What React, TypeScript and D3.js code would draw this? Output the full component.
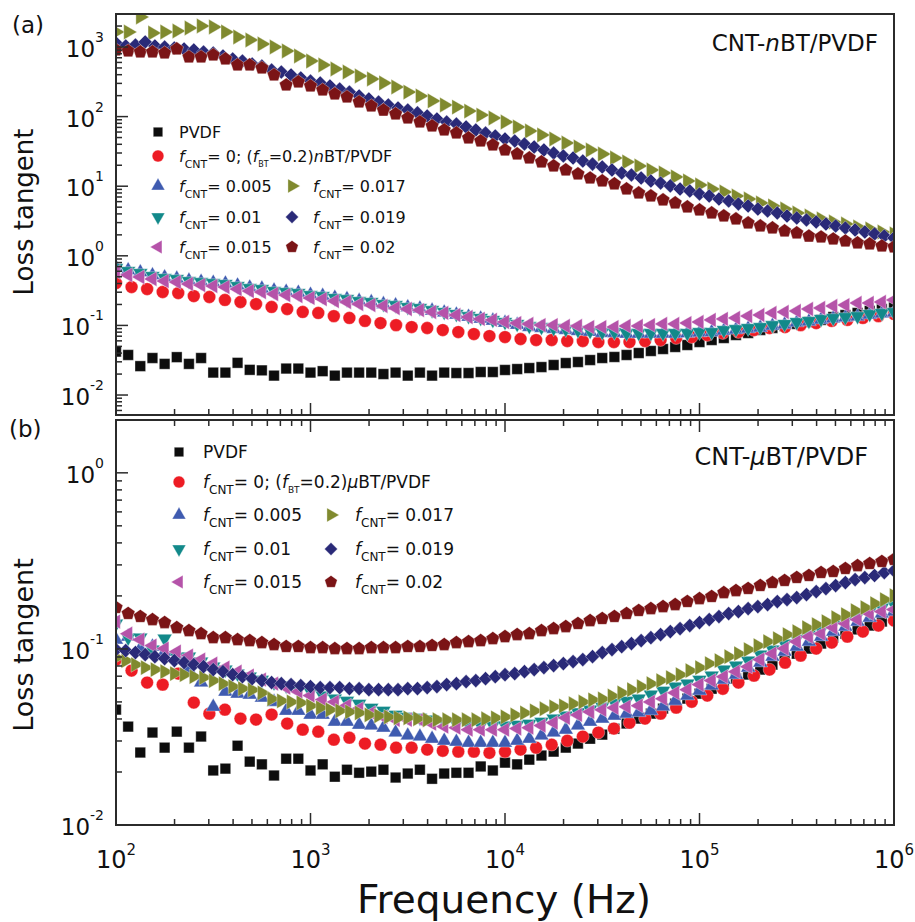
import React from 'react';
import * as d3 from 'd3';

const FONT = '"DejaVu Sans", Verdana, sans-serif';

// log-spaced sweep of n points from 10^2 to 10^6 Hz
const sweep = (n: number) => d3.range(n).map((i) => 10 ** (2 + (4 * i) / (n - 1)));

// ---------- panel (a): CNT-nBT/PVDF ----------
const pvdfA = [
  0.042, 0.0376, 0.026, 0.034, 0.028, 0.035, 0.028, 0.034, 0.021, 0.021,
  0.029, 0.023, 0.0226, 0.019, 0.024, 0.024, 0.021, 0.022, 0.019, 0.021,
  0.021, 0.021, 0.02, 0.021, 0.019, 0.021, 0.019, 0.021, 0.0207, 0.0207,
  0.0214, 0.0214, 0.0229, 0.0236, 0.0244, 0.0252, 0.027, 0.0288, 0.0298, 0.0318,
  0.034, 0.0352, 0.0376, 0.0401, 0.0429, 0.0458, 0.049, 0.0523, 0.0577, 0.0617,
  0.0659, 0.0728, 0.0778, 0.0859, 0.0918, 0.098, 0.105, 0.112, 0.12, 0.132,
  0.141, 0.151, 0.162, 0.172, 0.182,
];
const f0A = [
  0.406, 0.356, 0.333, 0.302, 0.292, 0.264, 0.256, 0.232, 0.217, 0.203,
  0.184, 0.172, 0.156, 0.151, 0.136, 0.128, 0.116, 0.108, 0.101, 0.0948,
  0.0918, 0.0859, 0.0804, 0.0752, 0.0704, 0.0681, 0.0638, 0.0617, 0.0617, 0.0597,
  0.0597, 0.0577, 0.0577, 0.0577, 0.0597, 0.0617, 0.0659, 0.0681, 0.0728, 0.0778,
  0.0804, 0.0859, 0.0918, 0.0948, 0.101, 0.108, 0.116, 0.12, 0.128, 0.136,
  0.146,
];
const f005A = [
  0.68, 0.62, 0.58, 0.525, 0.49, 0.47, 0.44, 0.425, 0.41, 0.4,
  0.375, 0.35, 0.338, 0.318, 0.305, 0.295, 0.276, 0.266, 0.25, 0.24,
  0.225, 0.216, 0.202, 0.194, 0.182, 0.175, 0.163, 0.153, 0.143, 0.133,
  0.125, 0.117, 0.109, 0.102, 0.095, 0.092, 0.089, 0.086, 0.083, 0.081,
  0.078, 0.078, 0.076, 0.076, 0.076, 0.076, 0.076, 0.077, 0.079, 0.08,
  0.084, 0.087, 0.09, 0.093, 0.099, 0.103, 0.11, 0.114, 0.121, 0.126,
  0.13, 0.134, 0.143, 0.148, 0.153,
];
const f01A = [
  0.668, 0.605, 0.566, 0.513, 0.48, 0.464, 0.434, 0.42, 0.406, 0.394,
  0.368, 0.344, 0.333, 0.312, 0.302, 0.292, 0.273, 0.264, 0.248, 0.239,
  0.224, 0.217, 0.203, 0.196, 0.184, 0.178, 0.166, 0.156, 0.146, 0.136,
  0.128, 0.12, 0.112, 0.105, 0.098, 0.0948, 0.0918, 0.0887, 0.0859, 0.0831,
  0.0804, 0.0804, 0.0778, 0.0778, 0.0778, 0.0778, 0.0778, 0.0778, 0.0804, 0.0804,
  0.0859, 0.0887, 0.0918, 0.0948, 0.101, 0.105, 0.112, 0.116, 0.124, 0.128,
  0.132, 0.136, 0.146, 0.151, 0.156,
];
const f015A = [
  0.585, 0.53, 0.496, 0.464, 0.434, 0.42, 0.394, 0.38, 0.368, 0.356,
  0.333, 0.312, 0.302, 0.283, 0.273, 0.264, 0.248, 0.239, 0.224, 0.217,
  0.203, 0.196, 0.19, 0.178, 0.172, 0.166, 0.156, 0.151, 0.141, 0.132,
  0.124, 0.12, 0.112, 0.108, 0.105, 0.101, 0.101, 0.098, 0.098, 0.0948,
  0.0948, 0.0948, 0.098, 0.098, 0.101, 0.105, 0.105, 0.108, 0.112, 0.12,
  0.124, 0.128, 0.136, 0.141, 0.151, 0.156, 0.161, 0.172, 0.178, 0.19,
  0.196, 0.21, 0.21, 0.217, 0.232,
];
const f017A = [
  1643, 1643, 2698, 1589, 1643, 1698, 1875, 2004, 1937, 1643,
  1393, 1261, 1104, 1000, 877, 743, 629, 551, 483, 437,
  383, 347, 304, 266, 225, 198, 168, 147, 137, 120,
  105, 95.5, 83.6, 71.0, 62.1, 54.4, 47.7, 41.8, 36.6, 33.1,
  29.0, 25.4, 22.3, 19.5, 17.1, 15.5, 13.6, 11.9, 10.4, 9.12,
  8.26, 7.23, 6.55, 5.74, 5.2, 4.7, 4.12, 3.73, 3.38, 3.06,
  2.86, 2.59, 2.43, 2.2, 2.06,
];
const f019A = [
  1142, 1034, 1068, 1180, 1034, 1000, 967, 936, 906, 848,
  820, 743, 673, 629, 570, 533, 467, 437, 396, 359,
  325, 304, 275, 249, 225, 198, 179, 162, 147, 133,
  124, 113, 102, 92.4, 83.6, 78.3, 71.0, 64.2, 58.1, 52.6,
  47.7, 44.6, 40.4, 36.6, 33.1, 30.0, 27.2, 25.4, 23.0, 20.8,
  18.9, 17.1, 15.5, 14.5, 13.1, 11.9, 11.1, 10.1, 9.12, 8.53,
  7.73, 7.23, 6.55, 6.13, 5.55, 5.2, 4.7, 4.4, 4.12, 3.73,
  3.49, 3.27, 3.06, 2.86, 2.68, 2.51, 2.35, 2.2, 2.06, 1.92,
  1.8,
];
const f02A = [
  906, 876, 848, 848, 820, 936, 718, 718, 767, 673,
  551, 551, 499, 396, 284, 314, 275, 241, 211, 191,
  162, 142, 124, 109, 95.5, 83.6, 73.3, 64.2, 58.1, 49.3,
  44.6, 39.1, 33.1, 29.0, 25.4, 22.3, 19.5, 17.1, 15.0, 13.1,
  11.9, 10.8, 9.12, 7.98, 7.23, 6.34, 5.74, 5.03, 4.55, 4.12,
  3.73, 3.38, 2.96, 2.68, 2.51, 2.27, 2.13, 1.92, 1.86, 1.74,
  1.63, 1.53, 1.48, 1.38, 1.34,
];

// ---------- panel (b): CNT-uBT/PVDF ----------
const pvdfB = [
  0.0452, 0.0362, 0.0258, 0.0335, 0.0275, 0.0339, 0.0275, 0.0318, 0.0204, 0.0209,
  0.0282, 0.0229, 0.0221, 0.0191, 0.0238, 0.0238, 0.0204, 0.0221, 0.0188, 0.0206,
  0.0198, 0.0201, 0.0206, 0.0186, 0.0196, 0.0206, 0.0183, 0.0196, 0.0198, 0.0198,
  0.0215, 0.0204, 0.0226, 0.0221, 0.0235, 0.0248, 0.0261, 0.0275, 0.029, 0.0309,
  0.0326, 0.0352, 0.0377, 0.0402, 0.0429, 0.0458, 0.0489, 0.0522, 0.0557, 0.0594,
  0.0635, 0.0678, 0.0715, 0.0763, 0.0814, 0.0869, 0.0939, 0.1004, 0.1072, 0.116,
  0.122, 0.129, 0.1357, 0.143, 0.151,
];
const f0B = [
  0.0869, 0.0753, 0.0644, 0.0627, 0.0724, 0.0496, 0.0429, 0.0452, 0.0402, 0.0397,
  0.0424, 0.0377, 0.0348, 0.0339, 0.0305, 0.0313, 0.029, 0.0286, 0.0275, 0.0275,
  0.0268, 0.0264, 0.0261, 0.0261, 0.0257, 0.0261, 0.0268, 0.0275, 0.0286, 0.0301,
  0.0318, 0.0335, 0.0353, 0.0381, 0.0402, 0.0429, 0.0464, 0.0501, 0.0543, 0.0594,
  0.0644, 0.0705, 0.0763, 0.0835, 0.0916, 0.1004, 0.1086, 0.1174, 0.1254, 0.1357,
  0.1448,
];
const f005B = [
  0.1129, 0.1174, 0.1004, 0.103, 0.0965, 0.0904, 0.0763, 0.0644, 0.0469, 0.0572,
  0.0557, 0.055, 0.0529, 0.05, 0.0445, 0.0445, 0.0423, 0.0423, 0.0386, 0.0386,
  0.0371, 0.0367, 0.0357, 0.0335, 0.0322, 0.0318, 0.0309, 0.0301, 0.0297, 0.0293,
  0.0293, 0.0293, 0.0293, 0.0301, 0.0309, 0.0322, 0.0335, 0.0348, 0.0367, 0.0386,
  0.0402, 0.0418, 0.0429, 0.0436, 0.0446, 0.0471, 0.0507, 0.0543, 0.0579, 0.0619,
  0.0669, 0.0714, 0.0783, 0.0836, 0.0904, 0.0965, 0.103, 0.11, 0.1174, 0.1254,
  0.1338, 0.1429, 0.1506, 0.1587, 0.1629,
];
const f01B = [
  0.1392, 0.1159, 0.1159, 0.0991, 0.1144, 0.0904, 0.0904, 0.0847, 0.0793, 0.0763,
  0.0724, 0.0696, 0.0669, 0.0644, 0.0619, 0.0595, 0.0571, 0.0543, 0.0522, 0.0507,
  0.0488, 0.0463, 0.0445, 0.0423, 0.0412, 0.0407, 0.0397, 0.0386, 0.0376, 0.0371,
  0.0367, 0.0367, 0.0367, 0.0371, 0.0376, 0.0386, 0.0402, 0.0418, 0.0436, 0.0452,
  0.0471, 0.0494, 0.0507, 0.0522, 0.055, 0.0579, 0.0611, 0.0635, 0.0669, 0.0705,
  0.0763, 0.0804, 0.0858, 0.0928, 0.0991, 0.1072, 0.1144, 0.1206, 0.1281, 0.1374,
  0.1448, 0.1546, 0.1629, 0.1717, 0.1785,
];
const f015B = [
  0.1429, 0.1221, 0.1129, 0.1044, 0.1004, 0.0965, 0.0916, 0.087, 0.0825, 0.0783,
  0.0743, 0.0705, 0.0669, 0.0635, 0.0603, 0.0572, 0.0543, 0.0515, 0.05, 0.0476,
  0.0457, 0.0433, 0.0411, 0.0396, 0.0396, 0.0396, 0.0376, 0.0362, 0.0357, 0.0348,
  0.0348, 0.0348, 0.0348, 0.0353, 0.0357, 0.0367, 0.0381, 0.0406, 0.0422, 0.0439,
  0.0451, 0.0463, 0.0469, 0.0476, 0.05, 0.0522, 0.0563, 0.0587, 0.0627, 0.0661,
  0.0696, 0.0743, 0.0793, 0.087, 0.094, 0.1004, 0.11, 0.1174, 0.1221, 0.1321,
  0.1393, 0.1467, 0.1587, 0.1629, 0.1672,
];
const f017B = [
  0.0892, 0.0858, 0.0814, 0.0783, 0.0763, 0.0743, 0.0724, 0.0714, 0.0696, 0.0687,
  0.0661, 0.0635, 0.0611, 0.0595, 0.0585, 0.0563, 0.052, 0.0507, 0.05, 0.0494,
  0.0475, 0.0463, 0.0451, 0.0445, 0.0439, 0.0433, 0.0422, 0.0417, 0.0411, 0.0406,
  0.0406, 0.0401, 0.0396, 0.0396, 0.0396, 0.0396, 0.0396, 0.0396, 0.0401, 0.0406,
  0.0411, 0.0422, 0.0433, 0.0445, 0.0457, 0.0469, 0.0475, 0.0488, 0.05, 0.0514,
  0.052, 0.0541, 0.0563, 0.0587, 0.0611, 0.0635, 0.0661, 0.0687, 0.0714, 0.0753,
  0.0783, 0.0825, 0.0858, 0.0904, 0.094, 0.0991, 0.1044, 0.11, 0.1144, 0.1206,
  0.1254, 0.1321, 0.1374, 0.1429, 0.1506, 0.1566, 0.1651, 0.1716, 0.1809, 0.1906,
  0.2008,
];
const f019B = [
  0.0991, 0.0978, 0.0953, 0.0928, 0.0904, 0.0881, 0.0858, 0.0836, 0.0814, 0.0793,
  0.0763, 0.0743, 0.0714, 0.0696, 0.0678, 0.0661, 0.0644, 0.0635, 0.0627, 0.0619,
  0.0611, 0.0603, 0.0603, 0.0603, 0.0595, 0.0595, 0.0587, 0.0587, 0.0587, 0.0587,
  0.0595, 0.0595, 0.0603, 0.0611, 0.0627, 0.0635, 0.0652, 0.0661, 0.0678, 0.0696,
  0.0714, 0.0724, 0.0743, 0.0763, 0.0783, 0.0804, 0.0825, 0.0847, 0.087, 0.0904,
  0.0953, 0.0991, 0.103, 0.1072, 0.1115, 0.1159, 0.1206, 0.1254, 0.1304, 0.1357,
  0.1411, 0.1467, 0.1526, 0.1587, 0.1629, 0.1694, 0.1739, 0.1785, 0.1857, 0.1906,
  0.1956, 0.2034, 0.2116, 0.2201, 0.2289, 0.238, 0.2476, 0.2541, 0.261, 0.2714,
  0.2783,
];
const f02B = [
  0.1717, 0.1588, 0.1527, 0.1467, 0.1411, 0.1321, 0.127, 0.1221, 0.1159, 0.1159,
  0.1129, 0.1114, 0.1086, 0.1058, 0.1031, 0.1031, 0.1017, 0.1017, 0.1004, 0.1004,
  0.1004, 0.1017, 0.1017, 0.1017, 0.1031, 0.1031, 0.1045, 0.1058, 0.1086, 0.11,
  0.1114, 0.1144, 0.1174, 0.1206, 0.1221, 0.127, 0.1304, 0.1339, 0.1393, 0.1448,
  0.1487, 0.1527, 0.1588, 0.1651, 0.1694, 0.1739, 0.1785, 0.1857, 0.1931, 0.1983,
  0.2088, 0.2144, 0.2202, 0.229, 0.2381, 0.2445, 0.2542, 0.261, 0.2714, 0.275,
  0.2859, 0.2973, 0.3053, 0.3134, 0.3218,
];

const fLabels = ['0.005', '0.01', '0.015', '0.017', '0.019', '0.02'];

type Shape = 'square' | 'circle' | 'up' | 'down' | 'left' | 'right' | 'diamond' | 'pentagon';

const pentagon: d3.SymbolType = {
  draw(ctx, size) {
    const r = Math.sqrt(size / 2.378);
    for (let i = 0; i < 5; i++) {
      const a = -Math.PI / 2 + (i * 2 * Math.PI) / 5;
      if (i === 0) ctx.moveTo(r * Math.cos(a), r * Math.sin(a));
      else ctx.lineTo(r * Math.cos(a), r * Math.sin(a));
    }
    ctx.closePath();
  },
};

const shapes: Record<Shape, { type: d3.SymbolType; rot: number; size: number }> = {
  square: { type: d3.symbolSquare, rot: 0, size: 112 },
  circle: { type: d3.symbolCircle, rot: 0, size: 128 },
  up: { type: d3.symbolTriangle, rot: 0, size: 95 },
  down: { type: d3.symbolTriangle, rot: 180, size: 95 },
  left: { type: d3.symbolTriangle, rot: -90, size: 95 },
  right: { type: d3.symbolTriangle, rot: 90, size: 102 },
  diamond: { type: d3.symbolSquare, rot: 45, size: 100 },
  pentagon: { type: pentagon, rot: 0, size: 122 },
};

const styles: { shape: Shape; color: string }[] = [
  { shape: 'square', color: '#0d0d0d' },
  { shape: 'circle', color: '#ed1c24' },
  { shape: 'up', color: '#3f5bb0' },
  { shape: 'down', color: '#12898a' },
  { shape: 'left', color: '#b553a9' },
  { shape: 'right', color: '#808a2f' },
  { shape: 'diamond', color: '#2a2a78' },
  { shape: 'pentagon', color: '#7b1416' },
];

const Marker = ({ s, x, y, scale = 1 }: { s: number; x: number; y: number; scale?: number }) => {
  const sh = shapes[styles[s].shape];
  const d = d3.symbol().type(sh.type).size(sh.size * scale)() as string;
  return (
    <path
      d={d}
      transform={`translate(${x},${y}) rotate(${sh.rot})`}
      fill={styles[s].color}
      stroke="#fff"
      strokeWidth={0.35}
    />
  );
};

const x = d3.scaleLog().domain([1e2, 1e6]).range([116, 894]);
const xTicks = x.ticks();

const Sup = ({ e, size, dy }: { e: number; size: number; dy: number }) => (
  <>
    <tspan>10</tspan>
    <tspan fontSize={size} dy={dy}>{e < 0 ? `-${-e}` : `${e}`}</tspan>
  </>
);

const FCnt = ({ v, sub }: { v: string; sub: number }) => (
  <>
    <tspan fontStyle="italic">f</tspan>
    <tspan fontSize={sub} dy={6}>CNT</tspan>
    <tspan dy={-6}>{`= ${v}`}</tspan>
  </>
);

type PanelProps = {
  id: string;
  top: number;
  bottom: number;
  yDomain: [number, number];
  data: number[][];
  xTickTop: boolean;
  xLabels: boolean;
  legend: { col: [number, number]; dx: number; rows: number[]; font: number; sub: number; bt: string };
  note: { x: number; y: number; size: number; mid: string };
  tag: { x: number; y: number; text: string };
  yTitle: { cy: number; size: number };
};

const Panel = (p: PanelProps) => {
  const left = 116;
  const right = 894;
  const y = d3.scaleLog().domain(p.yDomain).range([p.bottom, p.top]);
  const yTicks = y.ticks().filter((t) => t >= p.yDomain[0] && t <= p.yDomain[1]);
  const isMajor = (t: number) => Math.abs(Math.log10(t) - Math.round(Math.log10(t))) < 1e-6;
  const stroke = '#2b2b2b';
  const lg = p.legend;
  const ty = (r: number) => lg.rows[r] + 6;
  return (
    <g>
      <defs>
        <clipPath id={`clip-${p.id}`}>
          <rect x={left} y={p.top} width={right - left} height={p.bottom - p.top} />
        </clipPath>
      </defs>
      {/* data */}
      <g clipPath={`url(#clip-${p.id})`}>
        {p.data.map((vals, s) => {
          const fr = sweep(vals.length);
          return (
            <g key={s}>
              {vals.map((v, i) => (
                <Marker key={i} s={s} x={x(fr[i])} y={y(v)} />
              ))}
            </g>
          );
        })}
      </g>
      {/* frame */}
      <rect x={left} y={p.top} width={right - left} height={p.bottom - p.top} fill="none" stroke={stroke} strokeWidth={2} />
      {/* y ticks */}
      {yTicks.map((t, i) => (
        <line key={`y${i}`} x1={left} x2={left + (isMajor(t) ? 12 : 6)} y1={y(t)} y2={y(t)} stroke={stroke} strokeWidth={1.5} />
      ))}
      {yTicks.filter(isMajor).map((t, i) => (
        <text key={`yl${i}`} x={104} y={y(t) + 10} textAnchor="end" fontSize={23} fontFamily={FONT} fill="#111">
          <Sup e={Math.round(Math.log10(t))} size={14} dy={-15} />
        </text>
      ))}
      {/* x ticks */}
      {xTicks.map((t, i) => {
        const len = isMajor(t) ? 12 : 6;
        return (
          <g key={`x${i}`}>
            <line x1={x(t)} x2={x(t)} y1={p.bottom} y2={p.bottom - len} stroke={stroke} strokeWidth={1.5} />
            {p.xTickTop && <line x1={x(t)} x2={x(t)} y1={p.top} y2={p.top + len} stroke={stroke} strokeWidth={1.5} />}
          </g>
        );
      })}
      {p.xLabels &&
        xTicks.filter(isMajor).map((t, i) => (
          <text key={`xl${i}`} x={x(t)} y={p.bottom + 43} textAnchor="middle" fontSize={24} fontFamily={FONT} fill="#111">
            <Sup e={Math.round(Math.log10(t))} size={15} dy={-13} />
          </text>
        ))}
      {/* y title */}
      <text
        transform={`translate(33,${p.yTitle.cy}) rotate(-90)`}
        textAnchor="middle"
        fontSize={p.yTitle.size}
        fontFamily={FONT}
        fill="#111"
      >
        Loss tangent
      </text>
      {/* panel tag and annotation */}
      <text x={p.tag.x} y={p.tag.y} fontSize={23} fontFamily={FONT} fill="#111">{p.tag.text}</text>
      <text x={p.note.x} y={p.note.y} textAnchor="end" fontSize={p.note.size} fontFamily={FONT} fill="#111">
        <tspan>CNT-</tspan>
        <tspan fontStyle="italic">{p.note.mid}</tspan>
        <tspan>BT/PVDF</tspan>
      </text>
      {/* legend */}
      <g fontFamily={FONT} fontSize={lg.font} fill="#111">
        <Marker s={0} x={lg.col[0]} y={lg.rows[0]} scale={0.8} />
        <text x={lg.col[0] + lg.dx} y={ty(0)}>PVDF</text>
        <Marker s={1} x={lg.col[0]} y={lg.rows[1]} scale={0.85} />
        <text x={lg.col[0] + lg.dx} y={ty(1)}>
          <tspan fontStyle="italic">f</tspan>
          <tspan fontSize={lg.sub} dy={6}>CNT</tspan>
          <tspan dy={-6}>= 0; (</tspan>
          <tspan fontStyle="italic">f</tspan>
          <tspan fontSize={lg.sub - 3} dy={5}>BT</tspan>
          <tspan dy={-5}>=0.2)</tspan>
          <tspan fontStyle="italic">{lg.bt}</tspan>
          <tspan>BT/PVDF</tspan>
        </text>
        {fLabels.map((v, k) => {
          const col = k < 3 ? 0 : 1;
          const row = 2 + (k % 3);
          return (
            <g key={v}>
              <Marker s={k + 2} x={lg.col[col]} y={lg.rows[row]} scale={0.85} />
              <text x={lg.col[col] + lg.dx} y={ty(row)}>
                <FCnt v={v} sub={lg.sub} />
              </text>
            </g>
          );
        })}
      </g>
    </g>
  );
};

export default function App() {
  return (
    <svg width={915} height={922} style={{ position: 'absolute', left: 0, top: 0, background: '#fff' }}>
      <rect width={915} height={922} fill="#fff" />
      <Panel
        id="a"
        top={14}
        bottom={415}
        yDomain={[10 ** -2.287, 10 ** 3.474]}
        data={[pvdfA, f0A, f005A, f01A, f015A, f017A, f019A, f02A]}
        xTickTop={false}
        xLabels={false}
        legend={{ col: [158, 292], dx: 21, rows: [132, 156, 186, 217, 247], font: 16, sub: 11, bt: 'n' }}
        note={{ x: 878, y: 51, size: 23, mid: 'n' }}
        tag={{ x: 12, y: 33, text: '(a)' }}
        yTitle={{ cy: 212, size: 26 }}
      />
      <Panel
        id="b"
        top={420}
        bottom={825}
        yDomain={[0.01, 10 ** 0.3]}
        data={[pvdfB, f0B, f005B, f01B, f015B, f017B, f019B, f02B]}
        xTickTop={true}
        xLabels={true}
        legend={{ col: [179, 331], dx: 24, rows: [452, 482, 515, 549, 582], font: 17, sub: 12, bt: '\u03bc' }}
        note={{ x: 868, y: 465, size: 24, mid: '\u03bc' }}
        tag={{ x: 9, y: 437, text: '(b)' }}
        yTitle={{ cy: 645, size: 27 }}
      />
      <text x={504} y={913} textAnchor="middle" fontSize={39} fontFamily={FONT} fill="#111">
        Frequency (Hz)
      </text>
    </svg>
  );
}
